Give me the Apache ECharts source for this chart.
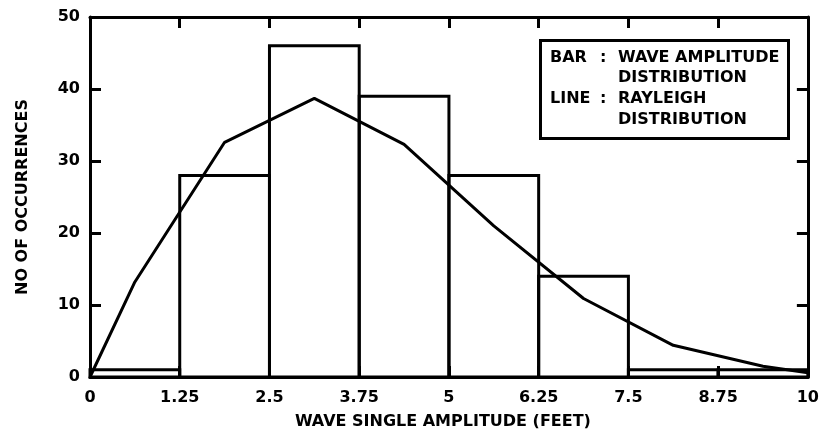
<!DOCTYPE html>
<html>
<head>
<meta charset="utf-8">
<script src="https://cdn.jsdelivr.net/npm/echarts@6/dist/echarts.min.js"></script>
<style>
html,body{margin:0;padding:0;background:#fff;}
#chart{width:822px;height:435px;}
</style>
</head>
<body>
<div id="chart"></div>
<script>
// ---- data ----
const binStarts = [0, 1.25, 2.5, 3.75, 5, 6.25, 7.5, 8.75];
const binEnds   = [1.25, 2.5, 3.75, 5, 6.25, 7.5, 8.75, 10];
const counts    = [1, 28, 46, 39, 28, 14, 1, 1];
const rayleighX = [0, 0.625, 1.875, 3.125, 4.375, 5.625, 6.875, 8.125, 9.375, 10];
const rayleighY = [0, 13.2, 32.6, 38.7, 32.3, 21, 10.9, 4.4, 1.5, 0.6];
const xTickLabels = ['0','1.25','2.5','3.75','5','6.25','7.5','8.75','10'];
const yTickLabels = ['0','10','20','30','40','50'];
const xTitle = 'WAVE SINGLE AMPLITUDE (FEET)';
const yTitle = 'NO OF OCCURRENCES';
const legendKeys = ['BAR', 'LINE'];
const legendText = [['WAVE AMPLITUDE', 'DISTRIBUTION'], ['RAYLEIGH', 'DISTRIBUTION']];

const FONT = 'DejaVu Sans';
const fontBase = {fontFamily: FONT, fontWeight: 'bold', fontSize: 16, color: '#000'};

const barData = binStarts.map((s, i) => [s, binEnds[i], counts[i]]);
const lineData = rayleighX.map((x, i) => [x, rayleighY[i]]);

const axisLine = {show: true, onZero: false, lineStyle: {color: '#000', width: 3}};
const axisTick = {show: true, inside: true, length: 11, lineStyle: {color: '#000', width: 3}};

const chart = echarts.init(document.getElementById('chart'));
const legendGraphics = [];
const lx = 550, colon = 600, vx = 618;
const rowY = [[58, 78], [99, 120]];
legendGraphics.push({
  type: 'rect', left: 539, top: 39, z: 100,
  shape: {width: 248, height: 98},
  style: {fill: '#fff', stroke: '#000', lineWidth: 3}
});
legendKeys.forEach((k, i) => {
  legendGraphics.push({type: 'text', x: lx, y: rowY[i][0], z: 101,
    style: {text: k, font: 'bold 16px ' + FONT, fill: '#000', textVerticalAlign: 'middle'}});
  legendGraphics.push({type: 'text', x: colon, y: rowY[i][0], z: 101,
    style: {text: ':', font: 'bold 16px ' + FONT, fill: '#000', textVerticalAlign: 'middle'}});
  legendText[i].forEach((t, j) => {
    legendGraphics.push({type: 'text', x: vx, y: rowY[i][j], z: 101,
      style: {text: t, font: 'bold 16px ' + FONT, fill: '#000', textVerticalAlign: 'middle'}});
  });
});

chart.setOption({
  animation: false,
  backgroundColor: '#fff',
  grid: {left: 90, right: 9, top: 17, bottom: 56},
  xAxis: [{
    type: 'value', min: 0, max: 10, interval: 1.25, position: 'bottom',
    axisLine: axisLine, axisTick: axisTick, splitLine: {show: false},
    axisLabel: Object.assign({margin: 13, formatter: (v) => xTickLabels[Math.round(v / 1.25)] ?? ''}, fontBase),
    name: xTitle, nameLocation: 'middle', nameGap: 37,
    nameTextStyle: Object.assign({}, fontBase, {padding: [0, 12, 0, 0]})
  }, {
    type: 'value', min: 0, max: 10, interval: 1.25, position: 'top',
    axisLine: axisLine, axisTick: axisTick, splitLine: {show: false}, axisLabel: {show: false}
  }],
  yAxis: [{
    type: 'value', min: 0, max: 50, interval: 10, position: 'left',
    axisLine: axisLine, axisTick: axisTick, splitLine: {show: false},
    axisLabel: Object.assign({margin: 10, formatter: (v) => yTickLabels[Math.round(v / 10)] ?? ''}, fontBase),
    name: yTitle, nameLocation: 'middle', nameGap: 59, nameRotate: 90,
    nameTextStyle: fontBase
  }, {
    type: 'value', min: 0, max: 50, interval: 10, position: 'right',
    axisLine: axisLine, axisTick: axisTick, splitLine: {show: false}, axisLabel: {show: false}
  }],
  series: [{
    type: 'custom',
    xAxisIndex: 0, yAxisIndex: 0,
    data: barData,
    encode: {x: [0, 1], y: 2},
    z: 2,
    renderItem: function (params, api) {
      const p0 = api.coord([api.value(0), api.value(2)]);
      const p1 = api.coord([api.value(1), 0]);
      return {
        type: 'rect',
        shape: {x: p0[0], y: p0[1], width: p1[0] - p0[0], height: p1[1] - p0[1]},
        style: {fill: 'rgba(255,255,255,0)', stroke: '#000', lineWidth: 3}
      };
    }
  }, {
    type: 'line',
    xAxisIndex: 0, yAxisIndex: 0,
    data: lineData,
    smooth: false,
    symbol: 'none',
    z: 3,
    lineStyle: {color: '#000', width: 3}
  }],
  graphic: legendGraphics
});
</script>
</body>
</html>
